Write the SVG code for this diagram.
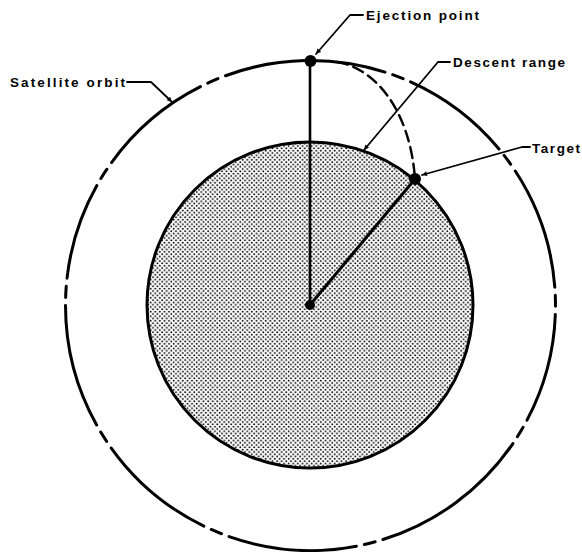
<svg xmlns="http://www.w3.org/2000/svg" width="582" height="552" viewBox="0 0 582 552">
<style>
.ln{fill:none;stroke:#000;stroke-linecap:round;stroke-linejoin:round}
.orbit{stroke-width:3}
.lead{stroke-width:1.8}
.lbl{font-family:"Liberation Sans",Arial,sans-serif;font-weight:bold;font-size:13.5px;fill:#000}
.dot{fill:#000}
</style>
<defs>
<pattern id="stipple" width="4.6" height="4.6" patternUnits="userSpaceOnUse">
<rect width="4.6" height="4.6" fill="#fff"/>
<circle cx="1.15" cy="1.15" r="0.95" fill="#000"/>
<circle cx="3.45" cy="3.45" r="0.95" fill="#000"/>
</pattern>
<marker id="arr" viewBox="0 0 10 10" refX="10" refY="5" markerWidth="7" markerHeight="5" markerUnits="userSpaceOnUse" orient="auto">
<path d="M0,0 L10,5 L0,10 Z" fill="#000"/>
</marker>
</defs>
<rect width="582" height="552" fill="#fff"/>
<g id="earth">
<circle cx="310" cy="305" r="163" fill="url(#stipple)" stroke="#000" stroke-width="3"/>
</g>
<g id="satellite-orbit">
<path class="ln orbit" d="M555.28,295.24 A245,245 0 0 1 555.5,306.36
M555.34,314.48 A245,245 0 0 1 527.02,420.14
M523.10,427.26 A245,245 0 0 1 517.36,436.78
M512.89,443.56 A245,245 0 0 1 382.95,539.54
M375.15,541.82 A245,245 0 0 1 364.36,544.50
M356.41,546.16 A245,245 0 0 1 229.12,536.59
M221.50,533.76 A245,245 0 0 1 211.24,529.49
M203.87,526.08 A245,245 0 0 1 111.25,448.07
M106.67,441.44 A245,245 0 0 1 100.71,432.05
M96.65,425.03 A245,245 0 0 1 65.5,305.5
M65.63,297.38 A245,245 0 0 1 66.25,286.28
M67.03,278.19 A245,245 0 0 1 96.84,185.60
M100.90,178.58 A245,245 0 0 1 106.90,169.21
M111.54,162.53 A245,245 0 0 1 200.42,86.62
M207.73,83.09 A245,245 0 0 1 217.93,78.66
M225.50,75.72 A245,245 0 0 1 384.99,72.10
M392.69,74.70 A245,245 0 0 1 403.07,78.66
M410.54,81.86 A245,245 0 0 1 499.00,149.00
M504.09,155.34 A245,245 0 0 1 510.70,164.27
M515.27,170.99 A245,245 0 0 1 554.81,287.13"/>
</g>
<g id="descent-path">
<path class="ln" stroke-width="2.4" stroke-dasharray="11 6" stroke-linecap="butt" d="M337,62 C375,68 410,110 415,179"/>
</g>
<g id="radii">
<line class="ln" stroke-width="2.6" x1="310" y1="61" x2="310" y2="305"/>
<line class="ln" stroke-width="3" x1="310" y1="305" x2="415" y2="179"/>
</g>
<g id="ejection-point"><circle class="dot" cx="310.5" cy="61" r="6"/></g>
<g id="target"><circle class="dot" cx="415" cy="179" r="6"/></g>
<g id="earth-center"><circle class="dot" cx="310" cy="305" r="5"/></g>
<g id="connectors">
<polyline class="ln lead" marker-end="url(#arr)" points="363,15 350,15 316,54"/>
<polyline class="ln lead" marker-end="url(#arr)" points="450,62 438,62 364,150"/>
<polyline class="ln lead" marker-end="url(#arr)" points="530,147 522,147 422,175"/>
<polyline class="ln lead" marker-end="url(#arr)" points="127,82 151,82 172,102"/>
</g>
<g id="labels">
<text class="lbl" x="366" y="19.5" textLength="113" lengthAdjust="spacing">Ejection point</text>
<text class="lbl" x="453" y="67" textLength="112" lengthAdjust="spacing">Descent range</text>
<text class="lbl" x="532" y="153" textLength="48" lengthAdjust="spacing">Target</text>
<text class="lbl" x="10" y="87" textLength="115" lengthAdjust="spacing">Satellite orbit</text>
</g>
</svg>
